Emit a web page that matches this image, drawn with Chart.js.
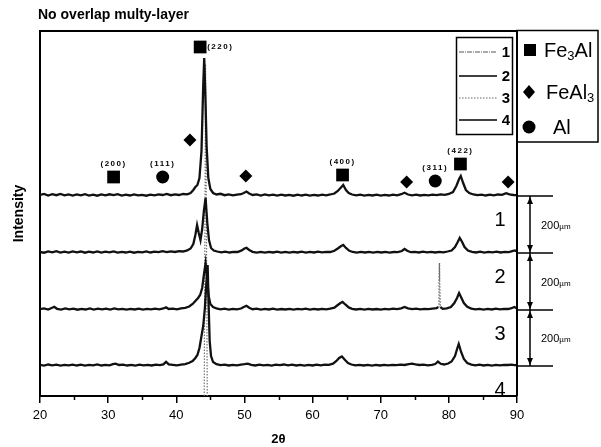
<!DOCTYPE html>
<html>
<head>
<meta charset="utf-8">
<script src="https://cdn.jsdelivr.net/npm/chart.js@4.4.1/dist/chart.umd.min.js"></script>
<style>
  body { margin: 0; background: #fff; }
  #wrap { width: 601px; height: 447px; }
</style>
</head>
<body>
<div id="wrap"><canvas id="grafico" width="601" height="447"></canvas></div>
<script>
var titulo = "No overlap multy-layer";
var xMin = 20, xMax = 90;
var tickLabels = [20, 30, 40, 50, 60, 70, 80, 90];
var minorTicks = [25, 35, 45, 55, 65, 75, 85];

// numeros das camadas e deslocamento vertical de cada curva
var traceNames = ["1", "2", "3", "4"];
var traceOffsets = [200, 143, 86, 30];
var layerLabel = "200";

var trace1 = [[20,1],[20.6,2],[21.2,0.5],[21.8,1.8],[22.4,0.8],[23,2],[23.6,0.6],[24.2,1.5],[24.8,0.4],[25.4,1.6],[26,0.7],[26.6,1.9],[27.2,0.5],[27.8,1.4],[28.4,0.3],[29,1.5],[29.6,0.6],[30.2,1.7],[30.8,0.9],[31.4,1.8],[32,0.4],[32.6,1.3],[33.2,0.5],[33.8,1.6],[34.4,0.6],[35,1.2],[35.6,0.3],[36.2,1.4],[36.8,0.7],[37.4,1.6],[38,1],[38.6,2],[39.2,0.8],[39.8,1.6],[40.4,1],[41,2],[41.6,1.6],[42.1,3],[42.5,6],[42.8,9],[43.1,11],[43.4,18],[43.7,45],[43.95,110],[44.1,138],[44.25,105],[44.45,50],[44.7,18],[45,7],[45.4,3],[45.9,1.5],[46.5,2.2],[47.1,0.8],[47.7,1.6],[48.3,0.6],[48.9,1.4],[49.5,1.8],[49.9,3],[50.3,4.5],[50.7,2.5],[51.2,1],[51.8,1.6],[52.4,0.5],[53,1.5],[53.6,0.6],[54.2,1.4],[54.8,0.4],[55.4,1.3],[56,0.5],[56.6,1.2],[57.2,0.3],[57.8,1.4],[58.4,0.5],[59,1.3],[59.6,0.4],[60.2,1.2],[60.8,0.5],[61.4,1.4],[62,0.7],[62.6,1.5],[63.2,2.5],[63.7,5],[64.1,8],[64.5,11],[64.9,6],[65.3,3],[65.8,1.5],[66.4,0.6],[67,1.3],[67.6,0.4],[68.2,1.2],[68.8,0.5],[69.4,1.3],[70,0.4],[70.6,1.2],[71.2,0.5],[71.8,1.4],[72.4,0.6],[73,1.8],[73.5,3.2],[74,1.5],[74.6,0.6],[75.2,1.3],[75.8,0.5],[76.4,1.2],[77,0.6],[77.6,1.4],[78.2,0.8],[78.8,1.6],[79.4,1.2],[80,2],[80.6,4],[81.1,10],[81.5,17],[81.75,20],[82.1,13],[82.5,6],[83,3],[83.6,1.5],[84.2,0.8],[84.8,1.4],[85.4,0.5],[86,1.3],[86.6,0.6],[87.2,1.5],[87.8,1.2],[88.4,2.8],[88.9,1.6],[89.5,1],[90,0.8]];

var trace2 = [[20,1.0],[20.6,0.3],[21.2,1.5],[21.8,0.6],[22.4,1.8],[23,0.5],[23.6,1.4],[24.2,0.4],[24.8,1.6],[25.4,0.7],[26,1.5],[26.6,0.3],[27.2,1.3],[27.8,0.5],[28.4,1.6],[29,0.4],[29.6,1.3],[30.2,0.6],[30.8,1.5],[31.4,0.4],[32,1.2],[32.6,0.5],[33.2,1.4],[33.8,0.3],[34.4,1.2],[35,0.6],[35.6,1.5],[36.2,0.5],[36.8,1.3],[37.4,0.8],[38,1.8],[38.6,0.9],[39.2,1.6],[39.8,1.0],[40.4,1.8],[41,1.5],[41.6,2.6],[42.1,4.5],[42.5,9],[42.8,18],[43.05,28],[43.3,20],[43.55,13],[43.8,24],[44.05,42],[44.3,55],[44.55,30],[44.8,13],[45.1,5],[45.5,2.5],[46,1.5],[46.6,0.6],[47.2,1.4],[47.8,0.5],[48.4,1.2],[49,1.0],[49.6,2.6],[50,4.5],[50.3,5.2],[50.7,3],[51.2,1.2],[51.8,0.4],[52.4,1.1],[53,0.3],[53.6,1.2],[54.2,0.5],[54.8,1.3],[55.4,0.4],[56,1.1],[56.6,0.3],[57.2,1.2],[57.8,0.5],[58.4,1.3],[59,0.4],[59.6,1.1],[60.2,0.5],[60.8,1.3],[61.4,0.6],[62,1.2],[62.6,1.0],[63.2,2.2],[63.7,4.5],[64.2,7],[64.5,8],[64.9,5],[65.4,2.2],[65.9,1.0],[66.5,0.4],[67.1,1.1],[67.7,0.5],[68.3,1.2],[68.9,0.4],[69.5,1.1],[70.1,0.5],[70.7,1.2],[71.3,0.4],[71.9,1.0],[72.5,0.8],[73.1,2.0],[73.5,4],[73.9,2.2],[74.4,0.8],[75,1.2],[75.6,0.5],[76.2,1.3],[76.8,0.6],[77.4,1.1],[78,0.5],[78.6,1.2],[79.2,0.6],[79.8,1.5],[80.4,2.5],[80.9,6],[81.3,11],[81.6,15],[81.95,11],[82.3,6],[82.8,2.5],[83.4,1.2],[84,0.5],[84.6,1.3],[85.2,0.4],[85.8,1.1],[86.4,0.6],[87,1.3],[87.6,0.5],[88.2,1.2],[88.8,0.8],[89.3,1.8],[89.7,2.6],[90,1.5]];

var trace3 = [[20,0.8],[20.6,1.6],[21.2,0.5],[21.7,2.0],[22.1,3.2],[22.5,1.2],[23.1,0.4],[23.7,1.5],[24.3,0.6],[24.9,1.4],[25.5,0.3],[26.1,1.2],[26.7,0.5],[27.3,1.5],[27.9,0.4],[28.5,1.3],[29.1,0.6],[29.7,1.4],[30.3,0.5],[30.9,1.6],[31.5,0.6],[32.1,1.2],[32.7,0.3],[33.3,1.1],[33.9,0.5],[34.5,1.3],[35.1,0.4],[35.7,1.2],[36.3,0.6],[36.9,1.4],[37.5,0.7],[38.1,1.5],[38.5,2.6],[38.9,1.0],[39.5,1.4],[40.1,0.7],[40.7,1.6],[41.3,2.2],[41.9,3.5],[42.4,6],[42.8,9],[43.2,12],[43.5,15],[43.8,22],[44.05,35],[44.3,47],[44.55,30],[44.75,14],[45,6],[45.4,3],[45.9,1.5],[46.5,0.7],[47.1,1.3],[47.7,0.4],[48.3,1.2],[48.9,0.6],[49.5,1.5],[49.9,3],[50.3,4.2],[50.7,2.2],[51.2,0.8],[51.8,1.3],[52.4,0.4],[53,1.1],[53.6,0.5],[54.2,1.3],[54.8,0.4],[55.4,1.0],[56,0.5],[56.6,1.2],[57.2,0.3],[57.8,1.1],[58.4,0.6],[59,1.3],[59.6,0.4],[60.2,1.1],[60.8,0.5],[61.4,1.2],[62,0.6],[62.6,1.3],[63.2,2.4],[63.7,5],[64.1,7],[64.4,8],[64.8,5.5],[65.3,2.6],[65.8,1.2],[66.4,0.5],[67,1.1],[67.6,0.4],[68.2,1.2],[68.8,0.5],[69.4,1.0],[70,0.4],[70.6,1.2],[71.2,0.6],[71.8,1.3],[72.4,0.8],[73,1.6],[73.5,3],[74,1.6],[74.6,0.8],[75.2,1.3],[75.8,0.6],[76.4,1.2],[77,0.8],[77.6,1.4],[78.2,1.8],[78.45,3],[78.55,30],[78.6,47],[78.65,30],[78.75,3],[79.1,1.2],[79.7,1.6],[80.3,3],[80.8,7],[81.2,12],[81.5,17],[81.85,12],[82.2,7],[82.7,3.2],[83.3,1.4],[83.9,0.6],[84.5,1.2],[85.1,0.4],[85.7,1.1],[86.3,0.5],[86.9,1.3],[87.5,0.6],[88.1,1.2],[88.7,1.0],[89.2,1.8],[89.6,3],[90,1.6]];

var trace4 = [[20,1.2],[20.6,0.4],[21.2,1.5],[21.8,0.7],[22.4,1.3],[23,0.4],[23.6,1.2],[24.2,0.6],[24.8,1.4],[25.4,0.5],[26,1.3],[26.6,0.4],[27.2,1.2],[27.8,0.6],[28.4,1.5],[29,0.5],[29.6,1.2],[30.2,0.7],[30.7,1.8],[31.1,2.4],[31.6,1.0],[32.2,1.4],[32.8,0.5],[33.4,1.2],[34,0.4],[34.6,1.3],[35.2,0.6],[35.8,1.2],[36.4,0.5],[37,1.3],[37.6,0.8],[38.1,1.6],[38.5,4.2],[38.9,1.6],[39.5,1.2],[40.1,0.6],[40.7,1.4],[41.3,1.8],[41.9,3.2],[42.4,5],[42.8,8],[43.1,11],[43.4,18],[43.7,30],[43.95,40],[44.2,58],[44.4,82],[44.6,101],[44.75,60],[44.9,25],[45.1,10],[45.4,4],[45.9,1.8],[46.5,0.8],[47.1,1.3],[47.7,0.5],[48.3,1.2],[48.9,0.6],[49.5,1.3],[50,1.8],[50.5,2.4],[51,1.2],[51.6,0.5],[52.2,1.3],[52.8,0.6],[53.4,1.2],[54,0.4],[54.6,1.3],[55.2,0.8],[55.8,1.5],[56.4,0.6],[57,1.3],[57.6,0.5],[58.2,1.2],[58.8,0.4],[59.4,1.1],[60,0.5],[60.6,1.3],[61.2,0.6],[61.8,1.4],[62.4,1.2],[63,2.4],[63.5,5],[63.9,8],[64.3,9.5],[64.7,6.5],[65.2,3],[65.7,1.5],[66.3,0.6],[66.9,1.2],[67.5,0.5],[68.1,1.1],[68.7,0.4],[69.3,1.2],[69.9,0.5],[70.5,1.1],[71.1,0.6],[71.7,1.2],[72.3,0.8],[72.9,1.4],[73.5,1.0],[74.1,1.8],[74.6,2.4],[75.1,1.6],[75.7,1.0],[76.3,1.4],[76.9,0.7],[77.5,1.2],[78,2],[78.4,4.5],[78.8,2.2],[79.3,1.5],[79.9,2.5],[80.4,4.5],[80.9,10],[81.25,18],[81.45,22],[81.8,14],[82.2,7],[82.7,3],[83.3,1.4],[83.9,0.6],[84.5,1.3],[85.1,0.5],[85.7,1.2],[86.3,0.4],[86.9,1.1],[87.5,0.6],[88.1,1.2],[88.7,1.0],[89.2,1.4],[89.6,0.8],[90,1.0]];

// pico fino pontilhado que sobe desde o eixo
var sharpPeak = [[44.1, 0], [44.3, 332], [44.55, 0]];

// marcadores das fases
var fe3alPeaks = [[30.8, 219], [43.5, 349], [64.4, 221], [81.7, 232]];
var fe3alHkl = ["(200)", "(220)", "(400)", "(422)"];
var feal3Peaks = [[42.0, 256], [50.2, 220], [73.8, 214], [88.7, 214]];
var alPeaks = [[38.0, 219], [78.0, 215]];
var alHkl = ["(111)", "(311)"];

var fonte = "'Liberation Sans', Arial, sans-serif";

function comOffset(pontos, off) {
  return pontos.map(function (p) { return { x: p[0], y: p[1] + off }; });
}
function pontos(lista) {
  return lista.map(function (p) { return { x: p[0], y: p[1] }; });
}

function inclinado(c) {
  var dy = Math.abs(c.p1.y - c.p0.y);
  var dx = Math.abs(c.p1.x - c.p0.x);
  return dy > 10 && dy > 20 * dx;
}

function textoSub(ctx, partes, x, y) {
  // partes: [texto, tamanho, deslocamento]
  var cx = x;
  for (var i = 0; i < partes.length; i++) {
    ctx.font = partes[i][1] + "px " + fonte;
    ctx.fillText(partes[i][0], cx, y + partes[i][2]);
    cx += ctx.measureText(partes[i][0]).width;
  }
}

function seta(ctx, x, y, dir) {
  ctx.beginPath();
  ctx.moveTo(x, y);
  ctx.lineTo(x - 3, y + dir * 7);
  ctx.lineTo(x + 3, y + dir * 7);
  ctx.closePath();
  ctx.fill();
}

var desenho = {
  id: "desenho",
  afterDraw: function (chart) {
    var ctx = chart.ctx;
    var area = chart.chartArea;
    var xs = chart.scales.x;
    var ys = chart.scales.y;
    ctx.save();
    ctx.fillStyle = "#000";
    ctx.strokeStyle = "#000";

    // moldura superior e direita
    ctx.lineWidth = 2;
    ctx.beginPath();
    ctx.moveTo(area.left, area.top);
    ctx.lineTo(area.right, area.top);
    ctx.lineTo(area.right, area.bottom);
    ctx.stroke();

    // ticks menores
    ctx.lineWidth = 1.5;
    minorTicks.forEach(function (v) {
      var px = Math.round(xs.getPixelForValue(v)) + 0.5;
      ctx.beginPath();
      ctx.moveTo(px, area.bottom);
      ctx.lineTo(px, area.bottom + 4);
      ctx.stroke();
    });

    // titulo
    ctx.font = "bold 14px " + fonte;
    ctx.textAlign = "left";
    ctx.textBaseline = "middle";
    ctx.fillText(titulo, 38, 15);

    // indices hkl
    ctx.font = "bold 8px " + fonte;
    ctx.letterSpacing = "1.5px";
    var rotulos = [];
    fe3alPeaks.forEach(function (p, i) { rotulos.push([p, fe3alHkl[i]]); });
    alPeaks.forEach(function (p, i) { rotulos.push([p, alHkl[i]]); });
    rotulos.forEach(function (r) {
      var px = xs.getPixelForValue(r[0][0]);
      var py = ys.getPixelForValue(r[0][1]);
      if (py < area.top + 40) {
        ctx.textAlign = "left";
        ctx.fillText(r[1], px + 7, py);
      } else {
        ctx.textAlign = "center";
        ctx.fillText(r[1], px, py - 13);
      }
    });
    ctx.letterSpacing = "0px";

    // numero de cada camada
    ctx.font = "20px " + fonte;
    ctx.textAlign = "center";
    traceOffsets.forEach(function (off, i) {
      ctx.fillText(traceNames[i], 500, ys.getPixelForValue(off) + 24);
    });

    // legenda interna 1-4
    ctx.lineWidth = 1.5;
    ctx.strokeRect(456.5, 37.5, 56, 97);
    var estilos = [
      { dash: [5, 1, 1, 1], cor: "#555", w: 1 },
      { dash: [], cor: "#000", w: 1.5 },
      { dash: [1.5, 1.5], cor: "#666", w: 1.2 },
      { dash: [], cor: "#000", w: 1.5 },
    ];
    var ly = [52, 76, 98, 120];
    for (var i = 0; i < 4; i++) {
      ctx.save();
      ctx.setLineDash(estilos[i].dash);
      ctx.strokeStyle = estilos[i].cor;
      ctx.lineWidth = estilos[i].w;
      ctx.beginPath();
      ctx.moveTo(459, ly[i]);
      ctx.lineTo(497, ly[i]);
      ctx.stroke();
      ctx.restore();
      ctx.font = "bold 15px " + fonte;
      ctx.textAlign = "right";
      ctx.fillText(traceNames[i], 510, ly[i] + 1);
    }

    // legenda das fases
    ctx.lineWidth = 1.5;
    ctx.strokeRect(517, 30.5, 81, 111.5);
    ctx.fillRect(524, 44, 12, 12);
    ctx.beginPath();
    ctx.moveTo(529, 85); ctx.lineTo(535, 92); ctx.lineTo(529, 99); ctx.lineTo(523, 92);
    ctx.closePath();
    ctx.fill();
    ctx.beginPath();
    ctx.arc(529, 127, 6.5, 0, Math.PI * 2);
    ctx.fill();
    ctx.textAlign = "left";
    textoSub(ctx, [["Fe", 20, 0], ["3", 13, 5], ["Al", 20, 0]], 544, 51);
    textoSub(ctx, [["FeAl", 20, 0], ["3", 13, 5]], 546, 93);
    textoSub(ctx, [["Al", 20, 0]], 553, 128);

    // cotas de 200 um
    var yb = traceOffsets.map(function (off) { return ys.getPixelForValue(off); });
    ctx.lineWidth = 1.5;
    yb.forEach(function (y) {
      ctx.beginPath();
      ctx.moveTo(area.right, y);
      ctx.lineTo(553, y);
      ctx.stroke();
    });
    ctx.beginPath();
    ctx.moveTo(530, yb[0]);
    ctx.lineTo(530, yb[yb.length - 1]);
    ctx.stroke();
    for (var k = 0; k < yb.length - 1; k++) {
      seta(ctx, 530, yb[k] + 1, 1);
      seta(ctx, 530, yb[k + 1] - 1, -1);
      var meio = (yb[k] + yb[k + 1]) / 2 + 1;
      ctx.font = "bold 11px " + fonte;
      textoSub(ctx, [[layerLabel, 11, 0], ["\u00b5m", 8, 1]], 541, meio);
    }
    ctx.restore();
  },
};

var datasets = [];
var traces = [trace1, trace2, trace3, trace4];
traces.forEach(function (t, i) {
  var ds = {
    label: traceNames[i],
    data: comOffset(t, traceOffsets[i]),
    borderColor: "#111",
    borderWidth: 2.3,
    pointRadius: 0,
    tension: 0,
    fill: false,
  };
  if (i == 2) {
    ds.segment = {
      borderDash: function (c) { return inclinado(c) ? [1.5, 1.5] : undefined; },
      borderColor: function (c) { return inclinado(c) ? "#666" : undefined; },
      borderWidth: function (c) { return inclinado(c) ? 1.2 : undefined; },
    };
  }
  datasets.push(ds);
});
datasets.push({
  label: "pico",
  data: pontos(sharpPeak),
  borderColor: "#777",
  borderWidth: 1.2,
  borderDash: [1.5, 1.5],
  pointRadius: 0,
  tension: 0,
  fill: false,
});
datasets.push({
  label: "Fe3Al",
  data: pontos(fe3alPeaks),
  showLine: false,
  pointStyle: "rect",
  pointRadius: 9,
  backgroundColor: "#000",
  borderWidth: 0,
});
datasets.push({
  label: "FeAl3",
  data: pontos(feal3Peaks),
  showLine: false,
  pointStyle: "rectRot",
  pointRadius: 6.5,
  backgroundColor: "#000",
  borderWidth: 0,
});
datasets.push({
  label: "Al",
  data: pontos(alPeaks),
  showLine: false,
  pointStyle: "circle",
  pointRadius: 6.5,
  backgroundColor: "#000",
  borderWidth: 0,
});

var config = {
  type: "line",
  data: { datasets: datasets },
  options: {
    responsive: false,
    animation: false,
    devicePixelRatio: 1,
    layout: { padding: { left: 0, right: 84, top: 31, bottom: 0 } },
    plugins: {
      legend: { display: false },
      tooltip: { enabled: false },
    },
    scales: {
      x: {
        type: "linear",
        min: xMin,
        max: xMax,
        afterFit: function (s) { s.height = 51; },
        border: { display: true, color: "#000", width: 2 },
        grid: { drawOnChartArea: false, drawTicks: true, tickLength: 7, color: "#000", lineWidth: 1.5 },
        ticks: {
          stepSize: 10,
          autoSkip: false,
          maxRotation: 0,
          padding: 5,
          color: "#000",
          font: { family: fonte, size: 13 },
          callback: function (v) { return tickLabels.indexOf(v) >= 0 ? String(v) : ""; },
        },
        title: {
          display: true,
          text: "2\u03b8",
          color: "#000",
          font: { family: fonte, size: 13, weight: "bold" },
          padding: { top: 0, bottom: 0 },
        },
      },
      y: {
        min: 0,
        max: 365,
        afterFit: function (s) { s.width = 40; },
        border: { display: true, color: "#000", width: 2 },
        grid: { display: false },
        ticks: { display: false },
        title: {
          display: true,
          text: "Intensity",
          color: "#000",
          font: { family: fonte, size: 14, weight: "bold" },
          padding: { top: 11, bottom: 0 },
        },
      },
    },
  },
  plugins: [desenho],
};

var grafico = new Chart(document.getElementById("grafico"), config);
</script>
</body>
</html>
